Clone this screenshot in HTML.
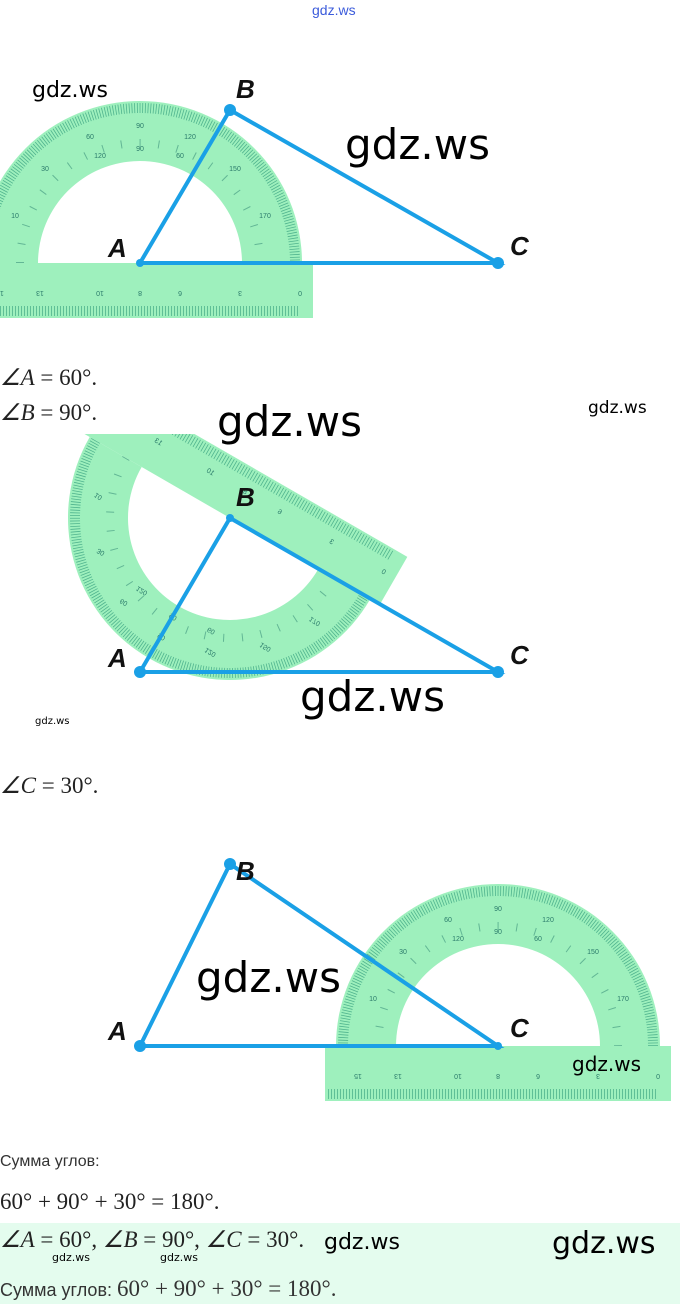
<!DOCTYPE html>
<html><head><meta charset="utf-8"><style>
body{margin:0;background:#fff;width:680px;height:1304px;position:relative;overflow:hidden;font-family:"Liberation Sans",sans-serif}
.t{position:absolute;white-space:nowrap}
.m{font-family:"Liberation Serif",serif;font-size:23px;color:#222}
.g{font-family:"DejaVu Sans","Liberation Sans",sans-serif;color:#000}
</style></head><body>
<svg width="680" height="1304" style="position:absolute;left:0;top:0">
<defs>
<g id="pr">
<path d="M-162,0 A162,162 0 0 1 162,0 L102,0 A102,102 0 0 0 -102,0 Z" fill="#9ef0bd"/>
<path d="M-155,0 A155,155 0 0 1 155,0" fill="none" stroke="#2f9a7a" stroke-width="10" stroke-dasharray="0.8 1.9" opacity="0.7"/>
<path d="M-120,0 A120,120 0 0 1 120,0" fill="none" stroke="#3a8f7a" stroke-width="8" stroke-dasharray="1 17.8" opacity="0.6"/>
<rect x="-173" y="0" width="346" height="55" fill="#9ef0bd"/>
<line x1="-170" y1="48" x2="160" y2="48" stroke="#2f9a7a" stroke-width="10" stroke-dasharray="0.8 2.2" opacity="0.7"/>
<g font-family="Liberation Sans" font-size="7" fill="#2a7a6a" text-anchor="middle">
<text x="0" y="-135">90</text><text x="-50" y="-124">60</text><text x="50" y="-124">120</text><text x="-95" y="-92">30</text><text x="95" y="-92">150</text><text x="-125" y="-45">10</text><text x="125" y="-45">170</text>
<text x="0" y="-112">90</text><text x="-40" y="-105">120</text><text x="40" y="-105">60</text>
</g>
<g font-family="Liberation Sans" font-size="7" fill="#2a7a6a" text-anchor="middle" transform="scale(-1,-1)">
<text x="-160" y="-28">0</text><text x="-100" y="-28">3</text><text x="-40" y="-28">6</text><text x="0" y="-28">8</text><text x="40" y="-28">10</text><text x="100" y="-28">13</text><text x="140" y="-28">15</text>
</g>
</g>
<clipPath id="c2"><rect x="0" y="434" width="680" height="300"/></clipPath>
</defs>
<use href="#pr" transform="translate(140,263)"/>
<g stroke="#1aa0e6" stroke-width="4" fill="none"><path d="M140,263 L230,110 L498,263 Z"/></g>
<circle cx="230" cy="110" r="6" fill="#1aa0e6"/><circle cx="498" cy="263" r="6" fill="#1aa0e6"/><circle cx="140" cy="263" r="4" fill="#1aa0e6"/>
<g clip-path="url(#c2)"><use href="#pr" transform="translate(230,518) rotate(30) scale(1,-1)"/></g>
<g stroke="#1aa0e6" stroke-width="4" fill="none"><path d="M140,672 L230,518 L498,672 Z"/></g>
<circle cx="140" cy="672" r="6" fill="#1aa0e6"/><circle cx="498" cy="672" r="6" fill="#1aa0e6"/><circle cx="230" cy="518" r="4" fill="#1aa0e6"/>
<use href="#pr" transform="translate(498,1046)"/>
<g stroke="#1aa0e6" stroke-width="4" fill="none"><path d="M140,1046 L230,864 L498,1046 Z"/></g>
<circle cx="140" cy="1046" r="6" fill="#1aa0e6"/><circle cx="230" cy="864" r="6" fill="#1aa0e6"/><circle cx="498" cy="1046" r="4" fill="#1aa0e6"/>
<g font-family="Liberation Sans" font-style="italic" font-weight="bold" font-size="26" fill="#111">
<text x="236" y="98">B</text><text x="108" y="257">A</text><text x="510" y="255">C</text>
<text x="236" y="506">B</text><text x="108" y="667">A</text><text x="510" y="664">C</text>
<text x="236" y="880">B</text><text x="108" y="1040">A</text><text x="510" y="1037">C</text>
</g>
<rect x="0" y="1223" width="680" height="81" fill="#e4fcee"/>
</svg>
<div class="t" style="left:312px;top:2px;font-size:14px;color:#3b5bdb">gdz.ws</div>
<div class="t g" style="left:32px;top:78px;font-size:22px">gdz.ws</div>
<div class="t g" style="left:345px;top:120px;font-size:42px">gdz.ws</div>
<div class="t m" style="left:0;top:365px"><i>∠A</i> = 60°.</div>
<div class="t m" style="left:0;top:400px"><i>∠B</i> = 90°.</div>
<div class="t g" style="left:217px;top:397px;font-size:42px">gdz.ws</div>
<div class="t g" style="left:588px;top:398px;font-size:17px">gdz.ws</div>
<div class="t g" style="left:300px;top:672px;font-size:42px">gdz.ws</div>
<div class="t g" style="left:35px;top:716px;font-size:10px">gdz.ws</div>
<div class="t m" style="left:0;top:773px"><i>∠C</i> = 30°.</div>
<div class="t g" style="left:196px;top:953px;font-size:42px">gdz.ws</div>
<div class="t g" style="left:572px;top:1052px;font-size:20px">gdz.ws</div>
<div class="t" style="left:0;top:1153px;font-size:16px;color:#333">Сумма углов:</div>
<div class="t m" style="left:0;top:1189px">60° + 90° + 30° = 180°.</div>
<div class="t m" style="left:0;top:1227px"><i>∠A</i> = 60°, <i>∠B</i> = 90°, <i>∠C</i> = 30°.</div>
<div class="t g" style="left:324px;top:1230px;font-size:22px">gdz.ws</div>
<div class="t g" style="left:52px;top:1251px;font-size:11px">gdz.ws</div>
<div class="t g" style="left:160px;top:1251px;font-size:11px">gdz.ws</div>
<div class="t g" style="left:552px;top:1226px;font-size:30px">gdz.ws</div>
<div class="t" style="left:0;top:1276px;font-size:18px;color:#333">Сумма углов: <span style="font-family:'Liberation Serif',serif;font-size:23px">60° + 90° + 30° = 180°.</span></div>
</body></html>
